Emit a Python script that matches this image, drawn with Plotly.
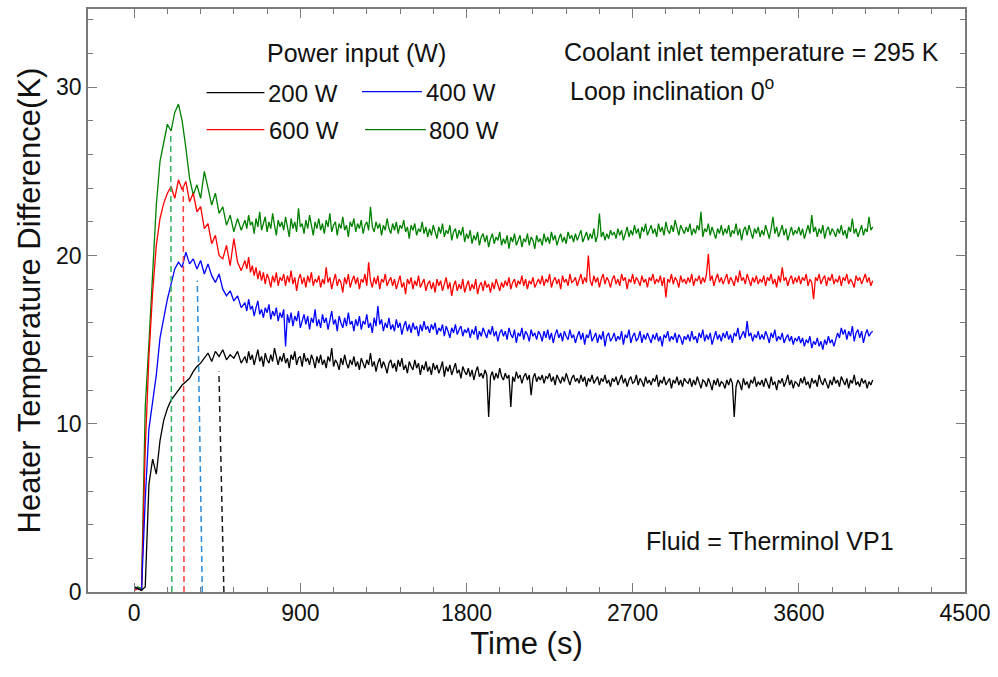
import plotly.graph_objects as go

# ---------------- data ----------------
# sampling grid: 20 s during the start-up, 10 s afterwards
time_s = list(range(0, 600, 20)) + list(range(600, 4001, 10))

dT_200W = [
    0.3, 0.2, 0.1, 0.3, 6.4, 7.9, 7.0, 9.0, 10.2, 10.9,
    11.4, 11.7, 12.0, 12.3, 12.5, 12.7, 13.1, 13.4, 13.6, 13.9,
    14.2, 13.7, 14.3, 14.0, 14.4, 13.8, 14.1, 13.9, 14.3, 13.6,
    # 600 s ->
    14.0, 13.6, 14.3, 13.8, 14.1, 13.5, 13.9, 14.4, 13.7, 14.0, 13.4, 14.2, 13.8, 13.6, 14.1, 13.7, 14.5, 13.9, 13.5, 14.0,
    13.7, 14.2, 13.6, 13.9, 13.3, 14.1, 13.8, 14.3, 13.5, 13.9, 14.0, 13.4, 14.2, 13.7, 13.9, 13.5, 14.1, 13.8, 13.3, 14.0,
    13.6, 14.1, 13.5, 13.8, 13.3, 14.0, 13.7, 14.5, 13.4, 13.8, 13.6, 13.2, 13.9, 13.5, 14.1, 13.6, 13.3, 13.8, 13.5, 14.0,
    13.4, 13.7, 13.2, 13.9, 13.6, 13.3, 13.8, 13.5, 14.2, 13.4, 13.7, 13.1, 13.6, 13.9, 13.3, 13.7, 13.4, 13.0, 13.6, 13.8,
    13.3, 13.6, 13.1, 13.8, 13.4, 13.9, 13.2, 13.5, 13.0, 13.7, 13.4, 13.2, 13.8, 13.3, 13.6, 12.9, 13.5, 13.2, 13.7, 13.1,
    13.4, 12.9, 13.6, 13.2, 13.5, 13.0, 13.3, 13.7, 12.8, 13.4, 13.1, 13.5, 12.9, 13.3, 13.6, 13.0, 13.2, 12.7, 13.4, 13.1,
    12.9, 13.3, 12.8, 13.2, 12.6, 13.1, 13.4, 12.8, 13.0, 12.7, 13.2, 12.9, 10.4, 12.8, 13.1, 12.6, 13.0, 12.7, 13.3, 12.8,
    12.6, 13.0, 12.7, 12.9, 11.0, 12.8, 12.5, 13.1, 12.7, 12.9, 12.4, 12.8, 13.0, 12.6, 12.9, 11.7, 12.7, 13.0, 12.5, 12.8,
    12.6, 12.9, 12.4, 12.8, 12.7, 13.0, 12.5, 12.8, 12.3, 12.9, 12.6, 12.4, 12.8, 12.5, 13.0, 12.6, 12.3, 12.7, 12.9, 12.5,
    12.7, 12.4, 12.9, 12.5, 12.8, 12.2, 12.7, 12.5, 12.9, 12.4, 12.6, 12.8, 12.3, 12.7, 12.5, 12.9, 12.4, 12.6, 12.2, 12.7,
    12.5, 12.8, 12.3, 12.6, 12.9, 12.4, 12.7, 12.2, 12.6, 12.8, 12.4, 12.5, 12.9, 12.3, 12.7, 12.5, 12.2, 12.8, 12.4, 12.6,
    12.3, 12.7, 12.5, 12.9, 12.2, 12.6, 12.4, 12.8, 12.3, 12.5, 12.7, 12.1, 12.6, 12.4, 12.8, 12.3, 12.6, 12.2, 12.7, 12.5,
    12.4, 12.7, 12.2, 12.6, 12.3, 12.8, 12.4, 12.1, 12.6, 12.5, 12.2, 12.7, 12.4, 12.0, 12.6, 12.3, 12.7, 12.2, 12.5, 12.4,
    12.1, 12.6, 12.3, 12.7, 12.4, 10.4, 12.2, 12.6, 12.4, 12.0, 12.7, 12.3, 12.5, 12.1, 12.6, 12.4, 12.8, 12.2, 12.5, 12.3,
    12.6, 12.2, 12.7, 12.4, 12.1, 12.8, 12.3, 12.5, 12.0, 12.6, 12.4, 12.7, 12.2, 12.5, 12.9, 12.3, 12.6, 12.1, 12.5, 12.4,
    12.2, 12.7, 12.4, 12.8, 12.3, 12.5, 12.1, 12.7, 12.4, 12.6, 12.2, 12.9, 12.5, 12.3, 12.7, 12.4, 12.1, 12.6, 12.3, 12.8,
    12.4, 12.6, 12.2, 12.8, 12.5, 12.3, 12.7, 12.1, 12.6, 12.4, 12.9, 12.3, 12.5, 12.2, 12.7, 12.4, 12.6, 12.1, 12.5, 12.3,
    12.6,
]

dT_400W = [
    0.3, 0.2, 0.1, 5.5, 9.7, 11.3, 12.9, 15.1, 16.3, 17.4,
    18.3, 19.2, 19.6, 19.3, 20.2, 19.5, 19.8, 19.2, 19.7, 18.9,
    19.5, 18.8, 18.4, 18.9, 18.0, 17.6, 17.9, 17.3, 17.6, 16.9,
    # 600 s ->
    17.2, 16.7, 17.4, 16.8, 17.0, 16.4, 16.9, 17.3, 16.5, 16.8, 16.3, 16.9, 16.6, 17.1, 16.2, 16.7, 16.4, 16.9, 16.1, 16.6,
    16.3, 16.8, 14.6, 16.5, 16.0, 16.6, 15.8, 16.4, 16.1, 16.7, 15.7, 16.2, 16.5, 15.9, 16.4, 15.6, 16.3, 16.0, 16.8, 15.8,
    16.2, 15.7, 16.5, 16.0, 16.3, 15.6, 16.1, 16.7, 15.9, 16.2, 15.5, 16.4, 16.0, 15.7, 16.3, 15.8, 16.6, 15.9, 16.1, 15.5,
    16.2, 15.8, 16.4, 15.6, 16.1, 15.9, 16.5, 15.7, 16.0, 15.4, 16.3, 15.8, 17.0, 15.9, 16.2, 15.5, 16.0, 15.7, 16.3, 15.6,
    15.9, 15.5, 16.2, 15.7, 16.0, 15.3, 15.8, 16.1, 15.5, 15.9, 15.4, 16.0, 15.6, 15.8, 15.2, 15.9, 15.5, 16.1, 15.6, 15.8,
    15.4, 15.9, 15.6, 16.0, 15.3, 15.7, 15.5, 15.9, 15.2, 15.8, 15.5, 15.1, 15.7, 15.4, 15.9, 15.3, 15.6, 15.8, 15.2, 15.6,
    15.4, 15.7, 15.1, 15.6, 15.3, 15.8, 15.0, 15.5, 15.2, 15.7, 15.4, 15.1, 15.6, 15.3, 15.8, 15.2, 15.5, 14.9, 15.4, 15.6,
    15.2, 15.5, 15.0, 15.7, 15.3, 15.1, 15.6, 14.8, 15.4, 15.2, 15.7, 15.0, 15.5, 15.3, 14.9, 15.6, 15.2, 15.4, 15.0, 15.5,
    15.3, 14.9, 15.5, 15.1, 15.6, 15.0, 15.4, 14.8, 15.3, 15.6, 15.1, 15.4, 14.9, 15.5, 15.2, 15.0, 15.6, 15.1, 15.3, 14.8,
    15.2, 15.5, 15.0, 15.4, 14.7, 15.3, 15.1, 15.6, 14.9, 15.2, 15.4, 14.8, 15.3, 15.0, 15.5, 14.6, 15.2, 15.4, 14.9, 15.1,
    15.4, 14.9, 15.2, 15.0, 15.5, 14.7, 15.3, 15.1, 15.6, 14.8, 15.2, 15.4, 14.9, 15.1, 15.5, 14.8, 15.3, 15.0, 15.4, 15.1,
    14.8, 15.3, 15.0, 15.4, 14.9, 15.2, 14.6, 15.3, 15.1, 15.5, 14.9, 15.2, 15.0, 15.4, 14.8, 15.3, 15.1, 14.7, 15.2, 15.0,
    15.3, 14.9, 15.5, 15.0, 15.2, 14.8, 15.4, 15.1, 15.6, 14.9, 15.3, 15.0, 15.4, 14.7, 15.2, 15.5, 15.0, 15.3, 14.9, 15.4,
    15.1, 15.5, 15.0, 15.3, 14.8, 15.4, 15.2, 15.7, 15.0, 15.3, 15.5, 15.1, 16.1, 15.2, 15.4, 14.9, 15.3, 15.1, 15.5, 15.0,
    15.3, 15.0, 15.5, 15.2, 14.8, 15.4, 15.1, 15.6, 14.9, 15.2, 15.0, 15.4, 14.8, 15.1, 15.3, 14.9, 15.2, 14.7, 15.1, 14.9,
    15.2, 14.8, 15.1, 14.6, 15.0, 14.8, 15.2, 14.5, 14.9, 14.7, 15.1, 14.6, 14.9, 14.4, 15.0, 14.7, 15.2, 14.8, 15.0, 14.6,
    15.0, 15.4, 15.1, 15.7, 15.3, 15.6, 15.0, 15.5, 15.2, 15.8, 14.9, 15.4, 15.6, 15.1, 15.5, 14.8, 15.3, 15.6, 15.2, 15.4,
    15.5,
]

dT_600W = [
    0.1, 0.2, 0.1, 8.5, 14.0, 17.8, 20.6, 22.2, 23.1, 23.7,
    24.1, 23.4, 24.5, 23.9, 24.4, 23.2, 23.7, 22.6, 22.9, 21.6,
    21.9, 20.7, 21.2, 20.0, 19.8, 20.6, 19.4, 21.0, 19.6, 19.1,
    # 600 s ->
    19.7, 19.2, 19.9, 19.0, 19.4, 18.8, 19.3, 18.6, 19.1, 18.5, 19.0, 18.3, 18.9, 18.6, 18.1, 18.8, 18.4, 19.0, 18.2, 18.7,
    18.5, 18.9, 18.2, 18.8, 18.4, 19.1, 18.3, 18.7, 17.9, 18.6, 18.9, 18.3, 18.7, 18.1, 18.8, 18.4, 19.0, 18.2, 18.6, 18.4,
    18.8, 18.1, 18.6, 18.3, 19.3, 18.4, 18.7, 18.0, 18.5, 18.9, 18.2, 18.6, 18.4, 17.8, 18.7, 18.3, 18.9, 18.1, 18.5, 18.8,
    18.3, 18.7, 18.0, 18.6, 18.4, 18.9, 18.2, 19.6, 18.5, 18.1, 18.7, 18.3, 18.8, 18.0, 18.6, 18.4, 18.9, 18.2, 18.5, 18.7,
    18.2, 18.6, 18.0, 18.5, 18.8, 18.1, 18.4, 17.7, 18.6, 18.3, 18.7, 18.0, 18.5, 18.2, 18.8, 18.1, 18.4, 18.6, 17.9, 18.3,
    18.5, 18.0, 18.4, 17.8, 18.6, 18.2, 18.5, 17.9, 18.3, 18.7, 18.0, 18.4, 17.6, 18.2, 18.5, 17.9, 18.3, 18.0, 18.6, 17.8,
    18.2, 18.5, 17.9, 18.3, 18.0, 18.6, 17.7, 18.2, 18.4, 17.9, 18.5, 18.1, 18.3, 17.8, 18.4, 18.0, 18.6, 18.2, 17.9, 18.4,
    18.1, 18.5, 18.2, 18.7, 18.0, 18.4, 18.6, 18.1, 18.5, 18.3, 18.8, 18.2, 18.6, 18.0, 18.5, 18.3, 18.7, 18.1, 18.4, 18.6,
    18.3, 18.8, 18.2, 18.6, 18.4, 18.9, 18.1, 18.5, 18.7, 18.3, 18.6, 18.0, 18.8, 18.4, 18.6, 18.2, 18.9, 18.4, 18.5, 18.7,
    18.2, 18.6, 18.9, 18.3, 18.7, 18.4, 20.0, 18.5, 18.2, 18.8, 18.4, 18.7, 18.1, 18.6, 18.9, 18.3, 18.7, 18.5, 18.1, 18.6,
    18.8, 18.3, 18.6, 18.2, 18.9, 18.5, 18.7, 18.0, 18.6, 18.4, 18.9, 18.3, 18.7, 18.5, 18.2, 18.8, 18.4, 18.6, 18.1, 18.7,
    18.5, 18.9, 18.3, 18.6, 18.4, 18.8, 18.2, 18.7, 17.5, 18.6, 18.4, 18.9, 18.3, 18.7, 18.5, 18.1, 18.8, 18.4, 18.6, 18.3,
    18.7, 18.4, 18.9, 18.2, 18.6, 18.5, 18.8, 18.3, 18.7, 18.4, 18.9, 20.1, 18.5, 18.8, 18.2, 18.6, 18.9, 18.4, 18.7, 18.3,
    18.6, 18.9, 18.3, 18.7, 18.5, 18.2, 18.8, 18.4, 19.1, 18.5, 18.7, 18.3, 18.9, 18.5, 18.2, 18.7, 18.4, 18.8, 18.3, 18.6,
    18.4, 18.8, 18.2, 18.7, 18.5, 18.9, 18.3, 18.6, 18.1, 18.8, 18.4, 19.3, 18.5, 18.7, 18.2, 18.6, 18.8, 18.3, 18.7, 18.4,
    18.8, 18.3, 18.7, 18.5, 18.9, 18.2, 18.6, 18.4, 17.4, 18.7, 18.5, 18.9, 18.3, 18.6, 18.8, 18.2, 18.7, 18.5, 18.9, 18.3,
    18.6, 18.4, 18.8, 18.2, 18.7, 18.5, 18.9, 18.3, 18.6, 18.4, 18.1, 18.8, 18.5, 18.7, 18.3, 18.6, 18.9, 18.4, 18.7, 18.2,
    18.5,
]

dT_800W = [
    0.2, 0.3, 0.2, 11.0, 14.8, 19.2, 23.0, 25.6, 26.8, 27.8,
    27.4, 28.5, 29.0, 28.0, 26.4, 24.6, 23.6, 24.2, 23.4, 25.0,
    24.0, 23.0, 23.7, 22.5, 22.9, 21.8, 22.4, 21.4, 22.2, 21.5,
    # 600 s ->
    22.1, 21.6, 22.4, 21.8, 22.0, 21.3, 22.2, 21.7, 22.6, 21.5, 21.9, 22.3, 21.4, 22.0, 21.6, 22.5, 21.8, 21.2, 22.1, 21.7,
    22.0, 21.5, 22.3, 21.8, 21.1, 22.2, 21.6, 22.0, 21.4, 22.8, 21.7, 21.9, 21.3, 22.1, 21.6, 22.4, 21.8, 21.2, 22.0, 21.6,
    22.2, 21.5, 21.9, 21.3, 22.1, 21.7, 22.5, 21.4, 21.8, 22.0, 21.2, 21.9, 21.6, 22.3, 21.5, 21.8, 21.1, 22.0, 21.7, 22.2,
    21.4, 21.9, 21.6, 22.1, 21.3, 21.8, 22.0, 21.5, 22.9, 21.7, 21.4, 22.0, 21.6, 21.9, 21.2, 21.8, 21.5, 22.2, 21.6, 21.3,
    21.9, 21.5, 22.0, 21.3, 21.8, 21.6, 22.1, 21.4, 21.7, 21.0, 21.8, 21.5, 21.9, 21.2, 21.6, 21.4, 22.0, 21.3, 21.7, 21.1,
    21.6, 21.2, 21.8, 21.4, 21.0, 21.7, 21.3, 21.9, 21.1, 21.5, 21.3, 21.8, 20.9, 21.4, 21.6, 21.0, 21.5, 21.2, 21.7, 20.8,
    21.3, 21.0, 21.5, 20.7, 21.2, 20.9, 21.4, 20.6, 21.1, 21.3, 20.8, 21.2, 20.5, 21.0, 21.3, 20.7, 21.1, 20.9, 21.4, 20.6,
    21.0, 20.7, 21.2, 20.4, 21.1, 20.8, 21.3, 20.6, 20.9, 21.2, 20.5, 21.0, 20.8, 21.3, 20.6, 21.1, 20.9, 20.4, 21.2, 20.8,
    21.0, 20.6, 21.3, 20.8, 21.1, 20.7, 21.4, 20.9, 21.2, 20.6, 21.0, 21.3, 20.8, 21.1, 20.7, 21.4, 21.0, 21.2, 20.8, 21.3,
    20.9, 21.2, 21.5, 20.8, 21.1, 21.4, 20.9, 21.3, 21.0, 21.6, 20.8, 21.2, 22.5, 21.1, 21.4, 20.9, 21.3, 21.0, 21.5, 21.2,
    21.4, 21.0, 21.6, 21.2, 21.5, 20.9, 21.3, 21.7, 21.1, 21.5, 21.2, 21.8, 21.3, 21.6, 21.0, 21.7, 21.4, 21.9, 21.2, 21.5,
    21.8, 21.3, 21.6, 21.1, 21.9, 21.4, 21.7, 21.2, 22.0, 21.5, 21.3, 21.8, 21.4, 22.1, 21.6, 21.2, 21.8, 21.5, 21.3, 21.7,
    21.4, 21.9, 21.2, 21.6, 21.3, 21.8, 21.5, 22.6, 21.1, 21.6, 21.4, 21.9, 21.2, 21.7, 21.4, 21.0, 21.6, 21.3, 21.8, 21.2,
    21.6, 21.3, 21.8, 21.1, 21.5, 21.3, 21.9, 21.2, 21.6, 20.9, 21.5, 21.7, 21.2, 21.8, 21.4, 21.0, 21.6, 21.3, 21.7, 21.1,
    21.5, 21.2, 21.8, 21.4, 21.0, 21.6, 22.3, 21.3, 21.7, 21.1, 21.5, 21.8, 21.2, 21.6, 20.9, 21.4, 21.7, 21.2, 21.5, 21.3,
    21.7, 21.2, 21.6, 21.0, 21.5, 21.8, 21.3, 22.4, 21.4, 21.7, 21.1, 21.6, 21.3, 21.8, 21.0, 21.5, 21.7, 21.2, 21.6, 21.4,
    21.1, 21.6, 21.3, 21.8, 21.2, 21.5, 21.0, 21.7, 21.4, 22.2, 21.3, 21.6, 21.1, 21.5, 21.8, 21.2, 21.6, 21.4, 22.3, 21.5,
    21.7,
]

series_names = ["200 W", "400 W", "600 W", "800 W"]
series_colors = ["#000000", "#0000ff", "#ff0000", "#008000"]

# hand-drawn dashed markers: bottom time, top time, top value
dash_t_bottom = [486, 369, 270, 204]
dash_t_top = [459, 342, 266, 198]
dash_v_top = [13.1, 18.5, 24.2, 27.2]
dash_colors = ["#1a1a1a", "#2a8bd8", "#ff3b3b", "#2fb35c"]

x_ticks = [0, 900, 1800, 2700, 3600, 4500]
y_ticks = [0, 10, 20, 30]

# ---------------- figure ----------------
FONT = "Arial, 'Liberation Sans', Helvetica, sans-serif"
fig = go.Figure()

series_values = [dT_200W, dT_400W, dT_600W, dT_800W]
for vals, name, col in zip(series_values[::-1], series_names[::-1], series_colors[::-1]):
    fig.add_trace(go.Scatter(x=time_s[:len(vals)], y=vals, mode="lines", name=name,
                             line=dict(color=col, width=1.3), showlegend=False))

for tb, tt, vt, col in zip(dash_t_bottom, dash_t_top, dash_v_top, dash_colors):
    fig.add_trace(go.Scatter(x=[tb, tt], y=[0, vt], mode="lines", showlegend=False,
                             line=dict(color=col, width=1.5, dash="6px,4px")))

AX = "#7a7a7a"
minor_x = [v for v in range(180, 4500, 180) if v % 900]
fig.update_xaxes(range=[-250, 4500], tickvals=x_ticks, ticks="inside", ticklen=9,
                 tickwidth=1.2, tickcolor=AX, showline=True, linecolor=AX, linewidth=1.5,
                 mirror="ticks", showgrid=False, zeroline=False,
                 tickfont=dict(family=FONT, size=23, color="#111"),
                 title=dict(text="Time (s)", font=dict(family=FONT, size=31, color="#111"),
                            standoff=6),
                 minor=dict(tickvals=minor_x, ticks="inside", ticklen=5, tickcolor=AX,
                            tickwidth=1.2, showgrid=False))
fig.update_yaxes(range=[0, 34.65], tickvals=y_ticks, ticks="inside", ticklen=9,
                 tickwidth=1.2, tickcolor=AX, showline=True, linecolor=AX, linewidth=1.5,
                 mirror="ticks", showgrid=False, zeroline=False,
                 tickfont=dict(family=FONT, size=23, color="#111"),
                 title=dict(text="Heater Temperature Difference(K)",
                            font=dict(family=FONT, size=31, color="#111"), standoff=6),
                 minor=dict(dtick=2, tick0=0, ticks="inside", ticklen=5, tickcolor=AX,
                            tickwidth=1.2, showgrid=False))

L, R, T, B = 88, 30, 7, 85
W, H = 998, 677
PW, PH = W - L - R, H - T - B


def px(x):
    return (x - L) / PW


def py(y):
    return (H - B - y) / PH


def text(s, x, y, size=25):
    fig.add_annotation(text=s, x=px(x), y=py(y), xref="paper", yref="paper",
                       xanchor="left", yanchor="middle", showarrow=False,
                       font=dict(family=FONT, size=size, color="#111"))


# legend block drawn manually (2 columns with a heading)
text("Power input (W)", 266, 51)
leg_pos = [(207, 265, 91, 267), (363, 423, 90, 425), (207, 265, 128, 268), (366, 427, 128, 428)]
for (x0, x1, yy, xt), name, col in zip(leg_pos, series_names, series_colors):
    fig.add_shape(type="line", xref="paper", yref="paper", x0=px(x0), x1=px(x1),
                  y0=py(yy), y1=py(yy), line=dict(color=col, width=1.3))
    text(name, xt, yy + 1, 24)

text("Coolant inlet temperature = 295 K", 564, 50)
text("Loop inclination 0<sup>o</sup>", 570, 87)
text("Fluid = Therminol VP1", 646, 541)

fig.update_layout(width=W, height=H, margin=dict(l=L, r=R, t=T, b=B),
                  plot_bgcolor="white", paper_bgcolor="white", showlegend=False)

fig.write_html("out.html")
